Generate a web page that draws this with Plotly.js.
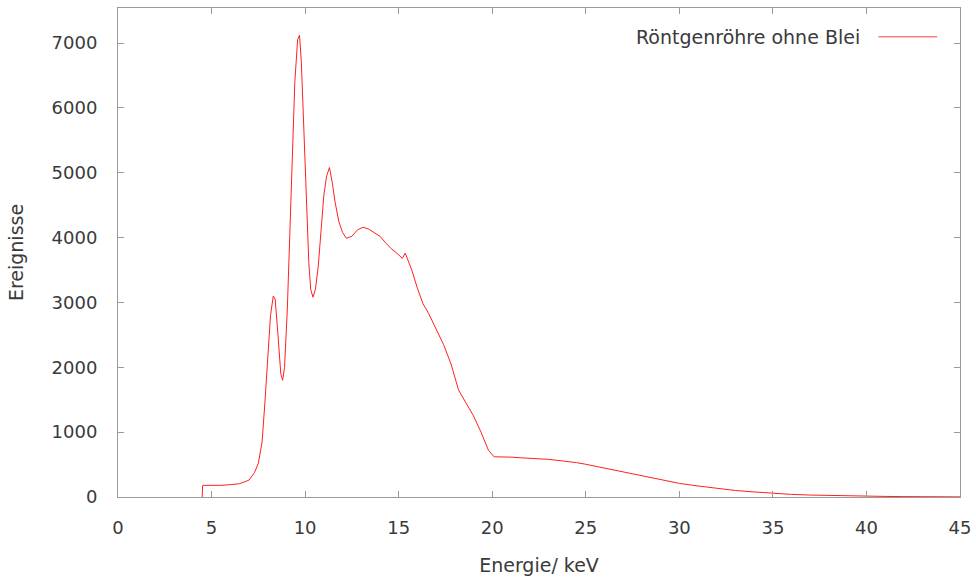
<!DOCTYPE html>
<html>
<head>
<meta charset="utf-8">
<script src="https://cdn.plot.ly/plotly-3.0.1.min.js"></script>
<style>html,body{margin:0;padding:0;background:#fff;}#chart{width:976px;height:580px;}</style>
</head>
<body>
<div id="chart"></div>
<script>
// Energy (keV)
const energy = [4.5, 4.52, 4.6, 5, 5.5, 6, 6.5, 7, 7.3, 7.5, 7.7, 7.85, 8.0, 8.15, 8.3, 8.4, 8.55, 8.7, 8.8, 8.9,
  9.05, 9.2, 9.3, 9.45, 9.6, 9.7, 9.8, 9.95, 10.1, 10.2, 10.3, 10.42, 10.55, 10.7, 10.85, 11.0, 11.15, 11.3, 11.45, 11.6,
  11.8, 12.0, 12.2, 12.5, 12.8, 13.1, 13.4, 13.7, 14.0, 14.3, 14.6, 14.9, 15.2, 15.35, 15.5, 15.7, 16.0, 16.3, 16.6, 17.0,
  17.4, 17.8, 18.2, 18.6, 19.0, 19.4, 19.8, 20.1, 20.5, 21, 21.5, 22, 22.5, 23, 23.5, 24, 24.5, 25, 25.5, 26,
  26.5, 27, 28, 29, 30, 31, 32, 33, 34, 35, 36, 37, 38, 39, 40, 41, 42, 43, 44, 45];
// Counts (Ereignisse)
const counts = [0, 175, 180, 175, 180, 190, 205, 260, 380, 520, 850, 1450, 2200, 2800, 3100, 3050, 2500, 1900, 1800, 2000,
  2900, 4100, 5200, 6400, 7050, 7120, 6700, 5600, 4500, 3600, 3200, 3080, 3200, 3550, 4100, 4650, 4950, 5080, 4850, 4550,
  4250, 4080, 3990, 4020, 4120, 4160, 4130, 4080, 4020, 3920, 3830, 3760, 3680, 3760, 3640, 3500, 3220, 2980, 2830, 2600,
  2350, 2050, 1650, 1450, 1250, 1000, 720, 620, 620, 615, 605, 600, 595, 580, 565, 550, 530, 505, 475, 445,
  415, 385, 325, 270, 210, 170, 133, 100, 78, 56, 40, 30, 22, 16, 12, 9, 6, 5, 3, 2];
const xTicks = [0, 5, 10, 15, 20, 25, 30, 35, 40, 45];
const yTicks = [0, 1000, 2000, 3000, 4000, 5000, 6000, 7000];
const seriesName = "Röntgenröhre ohne Blei";

const font = {family: "DejaVu Sans, sans-serif", size: 19, color: "#3a3a3a"};
const tickFont = {family: "DejaVu Sans, sans-serif", size: 18, color: "#3a3a3a"};
const axisCommon = {
  showline: true, linecolor: "#9a9a9a", linewidth: 1, mirror: "ticks",
  ticks: "inside", ticklen: 6, tickcolor: "#9a9a9a", tickwidth: 1,
  showgrid: false, zeroline: false, tickfont: tickFont
};
const trace = {
  x: energy, y: counts, type: "scatter", mode: "lines", name: seriesName,
  line: {color: "#ff2020", width: 1}, showlegend: false
};
const layout = {
  width: 976, height: 580,
  margin: {l: 118, r: 16, t: 8, b: 83},
  paper_bgcolor: "#fff", plot_bgcolor: "#fff",
  font: font,
  xaxis: Object.assign({}, axisCommon, {
    range: [0, 45], tickvals: xTicks, ticktext: xTicks.map(String), ticklabelstandoff: 14,
    title: {text: "Energie/ keV", font: font, standoff: 22}
  }),
  yaxis: Object.assign({}, axisCommon, {
    range: [0, 7540], tickvals: yTicks, ticktext: yTicks.map(String), ticklabelstandoff: 16,
    title: {text: "Ereignisse", font: font, standoff: 22}
  }),
  annotations: [{
    xref: "paper", yref: "paper", x: 0.884, y: 0.941, xanchor: "right", yanchor: "middle",
    text: seriesName, showarrow: false, font: font
  }],
  shapes: [{
    type: "line", xref: "paper", yref: "paper", x0: 0.903, x1: 0.973, y0: 0.941, y1: 0.941,
    line: {color: "#ff8080", width: 1.5}
  }]
};
Plotly.newPlot("chart", [trace], layout, {displayModeBar: false, staticPlot: true});
</script>
</body>
</html>
